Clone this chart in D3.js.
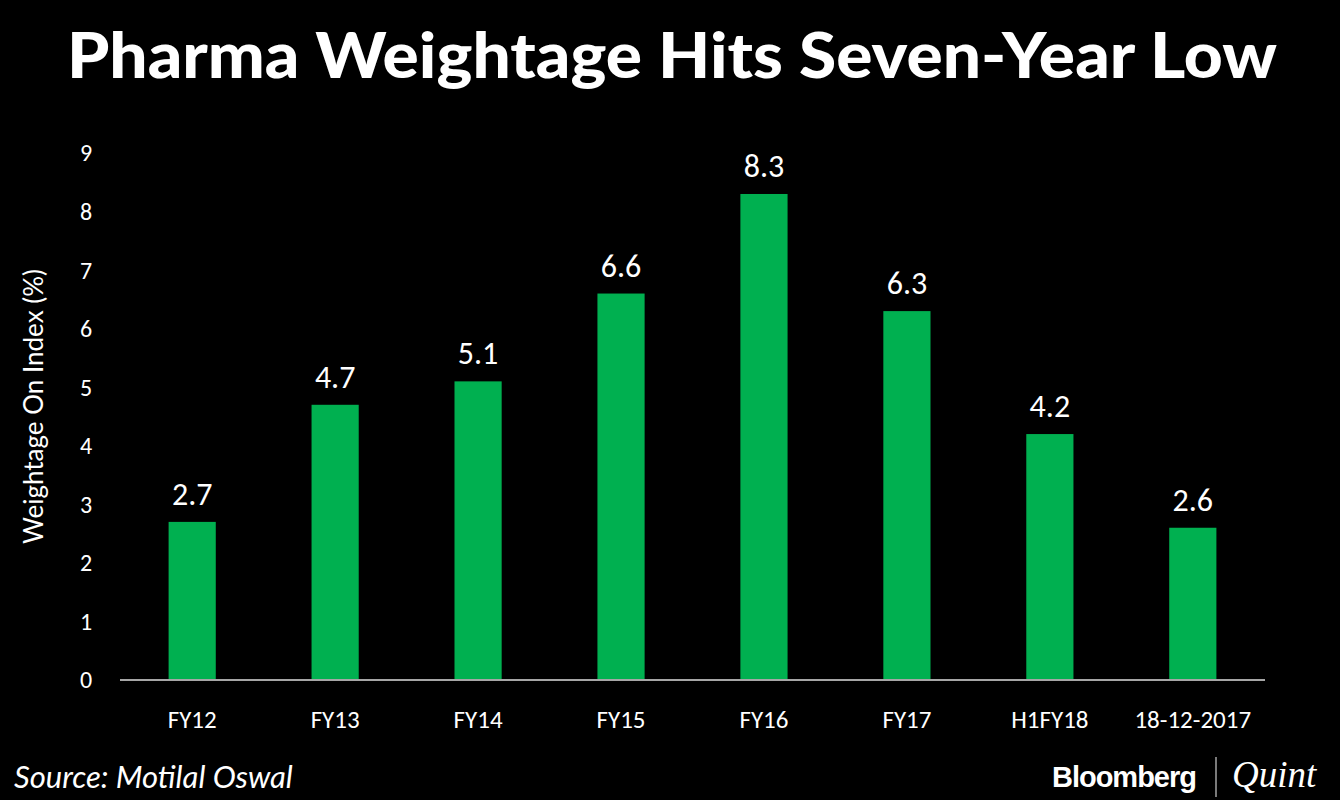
<!DOCTYPE html>
<html>
<head>
<meta charset="utf-8">
<script src="https://cdn.jsdelivr.net/npm/d3@7"></script>
<style>
  html, body { margin: 0; padding: 0; background: #000; }
  svg { display: block; }
</style>
</head>
<body>
<svg id="chart" width="1340" height="800"></svg>
<script>
// Data
const categories = ['FY12', 'FY13', 'FY14', 'FY15', 'FY16', 'FY17', 'H1FY18', '18-12-2017'];
const weightage  = [2.7, 4.7, 5.1, 6.6, 8.3, 6.3, 4.2, 2.6];
const yTicks     = [0, 1, 2, 3, 4, 5, 6, 7, 8, 9];

const W = 1340, H = 800;
const plot = { left: 120, right: 1265, top: 153, bottom: 680 };
const bodyFont = 'Carlito, Calibri, Lato, sans-serif';

const svg = d3.select('#chart');
svg.append('rect').attr('width', W).attr('height', H).attr('fill', '#000');

// Title
svg.append('text')
  .attr('x', 672).attr('y', 78)
  .attr('text-anchor', 'middle')
  .attr('fill', '#fff')
  .attr('font-family', 'Lato, sans-serif')
  .attr('font-weight', 900)
  .attr('font-size', 62)
  .attr('textLength', 1210)
  .attr('lengthAdjust', 'spacingAndGlyphs')
  .text('Pharma Weightage Hits Seven-Year Low');

// Scales
const x = d3.scaleBand()
  .domain(categories)
  .range([plot.left, plot.right])
  .paddingInner(0.67)
  .paddingOuter(0.34);

const y = d3.scaleLinear()
  .domain([0, 9])
  .range([plot.bottom, plot.top]);

// Y tick labels (no axis line)
svg.append('g')
  .selectAll('text')
  .data(yTicks)
  .join('text')
  .attr('x', 86)
  .attr('y', d => y(d))
  .attr('dy', '0.35em')
  .attr('text-anchor', 'middle')
  .attr('fill', '#fff')
  .attr('font-family', bodyFont)
  .attr('font-size', 24)
  .text(d => d);

// Y axis title
svg.append('text')
  .attr('transform', `translate(43, ${(plot.top + plot.bottom) / 2 - 10}) rotate(-90)`)
  .attr('text-anchor', 'middle')
  .attr('fill', '#fff')
  .attr('font-family', 'Lato, sans-serif')
  .attr('font-size', 26)
  .text('Weightage On Index (%)');

// Bars
svg.append('g')
  .selectAll('rect')
  .data(weightage)
  .join('rect')
  .attr('x', (d, i) => x(categories[i]))
  .attr('y', d => y(d))
  .attr('width', x.bandwidth())
  .attr('height', d => y(0) - y(d))
  .attr('fill', '#00b050');

// Value labels
svg.append('g')
  .selectAll('text')
  .data(weightage)
  .join('text')
  .attr('x', (d, i) => x(categories[i]) + x.bandwidth() / 2)
  .attr('y', d => y(d) - 17)
  .attr('text-anchor', 'middle')
  .attr('fill', '#fff')
  .attr('font-family', bodyFont)
  .attr('font-size', 32)
  .text(d => d.toFixed(1));

// X axis line
svg.append('line')
  .attr('x1', plot.left).attr('x2', plot.right)
  .attr('y1', y(0)).attr('y2', y(0))
  .attr('stroke', '#a6a6a6')
  .attr('stroke-width', 2);

// Category labels
svg.append('g')
  .selectAll('text')
  .data(categories)
  .join('text')
  .attr('x', d => x(d) + x.bandwidth() / 2)
  .attr('y', 728)
  .attr('text-anchor', 'middle')
  .attr('fill', '#fff')
  .attr('font-family', bodyFont)
  .attr('font-size', 25)
  .text(d => d);

// Source
svg.append('text')
  .attr('x', 14).attr('y', 788)
  .attr('fill', '#fff')
  .attr('font-family', 'Lato, sans-serif')
  .attr('font-style', 'italic')
  .attr('font-size', 31)
  .text('Source: Motilal Oswal');

// Logo
svg.append('text')
  .attr('x', 1196).attr('y', 787)
  .attr('text-anchor', 'end')
  .attr('fill', '#fff')
  .attr('font-family', '"Liberation Sans", Arial, sans-serif')
  .attr('font-weight', 700)
  .attr('font-size', 29)
  .attr('letter-spacing', -1)
  .text('Bloomberg');
svg.append('line')
  .attr('x1', 1216).attr('x2', 1216)
  .attr('y1', 757).attr('y2', 797)
  .attr('stroke', '#ccc')
  .attr('stroke-width', 1.2);
svg.append('text')
  .attr('x', 1232).attr('y', 787)
  .attr('fill', '#fff')
  .attr('font-family', '"Liberation Serif", "DejaVu Serif", serif')
  .attr('font-style', 'italic')
  .attr('font-size', 37)
  .text('Quint');
</script>
</body>
</html>
